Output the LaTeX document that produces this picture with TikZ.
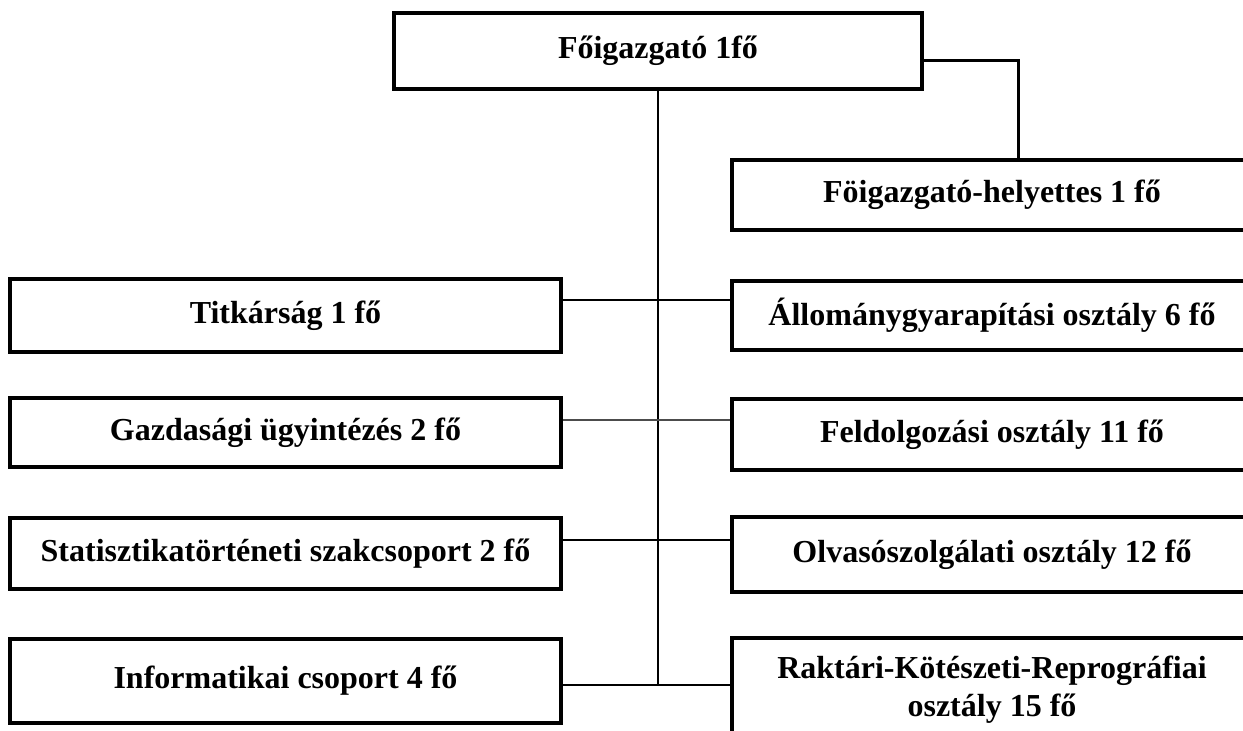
\documentclass[tikz,border=0pt]{standalone}
\usepackage{fontspec}
\setmainfont{Liberation Serif}
\usetikzlibrary{positioning,calc}

\begin{document}
\begin{tikzpicture}[
  x=1pt,y=1pt,
  font=\fontsize{32}{38}\selectfont\bfseries,
  box/.style={draw,line width=4.5pt,align=center,inner sep=0pt,fill=white},
  lbox/.style={box,minimum width=551pt},
  rbox/.style={box,minimum width=520pt},
  link/.style={line width=2.4pt},
  faint/.style={line width=1.1pt,black!70}
]
\useasboundingbox[fill=white] (0,0) rectangle (1243,-731);

% ---- head ----
\node[box,minimum width=528pt,minimum height=76pt] (fo) at (658,-51) {Főigazgató 1fő};
\node[rbox,minimum height=70pt] (hely) at (992,-195) {Föigazgató-helyettes 1 fő};

% ---- left column ----
\node[lbox,minimum height=73pt] (titk) at (285.5,-315.5) {Titkárság 1 fő};
\node[lbox,minimum height=69pt] (gazd) at (285.5,-432.5) {Gazdasági ügyintézés 2 fő};
\node[lbox,minimum height=71pt] (stat) at (285.5,-553.5) {Statisztikatörténeti szakcsoport 2 fő};
\node[lbox,minimum height=84pt] (info) at (285.5,-681) {Informatikai csoport 4 fő};

% ---- right column ----
\node[rbox,minimum height=69pt] (allo) at (992,-315.5) {Állománygyarapítási osztály 6 fő};
\node[rbox,minimum height=71pt] (feld) at (992,-434.5) {Feldolgozási osztály 11 fő};
\node[rbox,minimum height=75pt] (olva) at (992,-554.5) {Olvasószolgálati osztály 12 fő};
\node[rbox,minimum height=104pt] (rakt) at (992,-690) {Raktári-Kötészeti-Reprográfiai\\osztály 15 fő};

% ---- lines ----
\coordinate (j1) at (658,-300);
\coordinate (j2) at (658,-420);
\coordinate (j3) at (658,-540);
\coordinate (j4) at (658,-685);
\coordinate (bend) at (1018,-60);

\draw[link] (fo.south) -- (j4);
\draw[line width=3pt] (fo.east |- bend) -- (bend) -- (hely.north -| bend);
\draw[link] (titk.east |- j1) -- (allo.west |- j1);
\draw[faint] (gazd.east |- j2) -- (feld.west |- j2);
\draw[link] (stat.east |- j3) -- (olva.west |- j3);
\draw[link] (info.east |- j4) -- (rakt.west |- j4);

\end{tikzpicture}
\end{document}
